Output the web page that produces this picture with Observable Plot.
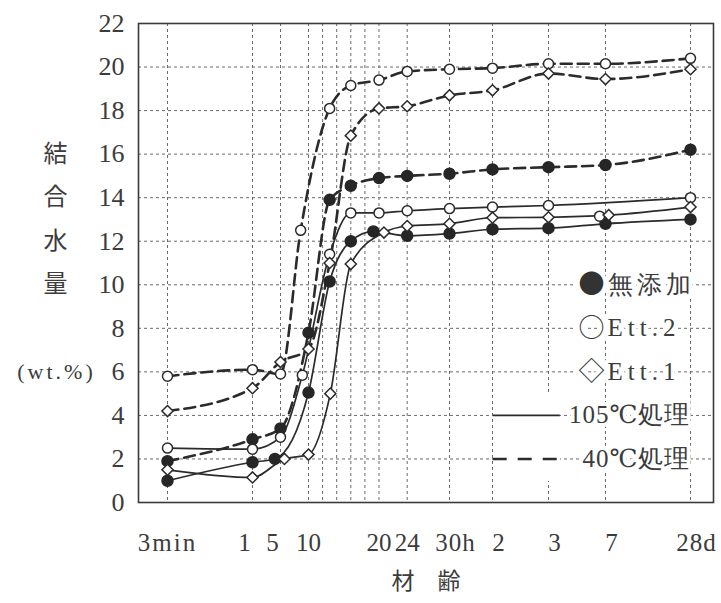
<!DOCTYPE html>
<html><head><meta charset="utf-8">
<script src="https://cdn.jsdelivr.net/npm/d3@7"></script>
<script src="https://cdn.jsdelivr.net/npm/@observablehq/plot@0.6"></script>
<style>html,body{margin:0;padding:0;background:#fff;} svg{display:block;}</style>
</head><body><div id="chart"></div>
<script>
// ---- axis definitions (time in hours) ----
const xTickHours  = [0.05, 1, 5, 10, 20, 24, 30, 48, 72, 168, 672];
const xTickLabels = ["3min", "1", "5", "10", "20", "24", "30h", "2", "3", "7", "28d"];
const xGridHours  = [0.05, 1, 5, 10, 12, 14, 16, 18, 20, 24, 30, 48, 72, 168, 672];
const yTicks      = [0, 2, 4, 6, 8, 10, 12, 14, 16, 18, 20, 22];
const yGrid       = [2, 4, 6, 8, 10, 12, 14, 16, 18, 20];

// ---- series (結合水量 wt.%) ----
const seriesKeys      = ["mutenka105", "ett2_105", "ett1_105", "mutenka40", "ett2_40", "ett1_40"];
const seriesMaterial  = ["無添加", "Ett.2", "Ett.1", "無添加", "Ett.2", "Ett.1"];
const seriesTreatment = ["105℃", "105℃", "105℃", "40℃", "40℃", "40℃"];

const mutenka105Hours  = [0.05, 1, 4.2, 10, 13, 16, 19.2, 24, 30, 48, 72, 168, 672];
const mutenka105Values = [1.0, 1.85, 2.0, 5.05, 10.15, 12.0, 12.45, 12.25, 12.35, 12.55, 12.6, 12.8, 13.0];

const ett2_105Hours  = [0.05, 1, 5, 8.9, 13, 16, 20, 24, 30, 48, 72, 158, 672];
const ett2_105Values = [2.5, 2.45, 3.0, 5.85, 11.4, 13.3, 13.3, 13.4, 13.5, 13.57, 13.64, 13.15, 14.0];

const ett1_105Hours  = [0.05, 1, 5.7, 10, 13.1, 16, 20.7, 24, 30, 48, 72, 187, 672];
const ett1_105Values = [1.5, 1.15, 2.0, 2.2, 5.0, 10.95, 12.4, 12.7, 12.8, 13.08, 13.1, 13.2, 13.57];

const mutenka40Hours  = [0.05, 1, 5, 10, 13, 16, 20, 24, 30, 48, 72, 168, 672];
const mutenka40Values = [1.9, 2.9, 3.4, 7.8, 13.9, 14.55, 14.9, 15.0, 15.1, 15.3, 15.4, 15.5, 16.2];

const ett2_40Hours  = [0.05, 1, 5, 8.6, 13, 16, 20, 24, 30, 48, 72, 168, 672];
const ett2_40Values = [5.8, 6.1, 5.9, 12.5, 18.1, 19.15, 19.4, 19.8, 19.9, 19.95, 20.15, 20.15, 20.4];

const ett1_40Hours  = [0.05, 1, 5, 10, 13, 16, 20, 24, 30, 48, 72, 168, 672];
const ett1_40Values = [4.2, 5.25, 6.45, 7.05, 11.0, 16.85, 18.1, 18.2, 18.7, 18.93, 19.7, 19.45, 19.9];

// points plotted off the drawn (hand-fitted) curve
const curveSkipKeys  = ["ett2_105"];
const curveSkipHours = [158];

// ---- labels ----
const yTitleChars   = ["結", "合", "水", "量"];
const xTitle        = "材　齢";
const unitLabel     = "(wt.%)";
const legendGlyphs  = ["●", "○", "◇"];
const legendNames   = ["無添加", "Ett.2", "Ett.1"];
const legendTreat   = ["105℃処理", "40℃処理"];

// ---- build table ----
const seriesHours  = [mutenka105Hours, ett2_105Hours, ett1_105Hours, mutenka40Hours, ett2_40Hours, ett1_40Hours];
const seriesValues = [mutenka105Values, ett2_105Values, ett1_105Values, mutenka40Values, ett2_40Values, ett1_40Values];
const rows = [];
seriesKeys.forEach((k, i) => {
  seriesHours[i].forEach((h, j) => rows.push({
    key: k, material: seriesMaterial[i], treatment: seriesTreatment[i], t: h, v: seriesValues[i][j]
  }));
});
const onCurve = d => !curveSkipKeys.some((k, i) => k === d.key && curveSkipHours[i] === d.t);

// ---- layout (scale breakpoints of the hand-drawn time axis) ----
const xBreakHours = [0.05, 1, 5, 10, 30, 48, 72, 168, 672];
const xBreakPx    = [167, 252, 280, 308, 449, 492, 548, 605, 690];

const ink = "#2b2b2b";
const txt = "#3c3c3c";
const serif = "Liberation Serif, Tinos, Times New Roman, DejaVu Serif, serif";
const cjk = "Noto Sans CJK JP, sans-serif";
const gridStyle = {stroke: "#6a6a6a", strokeWidth: 1, strokeDasharray: "3,3"};

const tickIdx = (labels) => xTickLabels.map((l, i) => i).filter(i => labels.includes(xTickLabels[i]));
const tickMark = (labels, dx) => Plot.text(tickIdx(labels), {
  x: i => xTickHours[i], text: i => xTickLabels[i], frameAnchor: "bottom", dy: 48, dx,
  fontFamily: serif, fontSize: 25, fill: txt
});

const legendRowsA = [10, 8, 6];
const legendRowsB = [4, 2];
const yTitleRows = [16, 14, 12, 10];

const chart = Plot.plot({
  width: 721, height: 603,
  marginLeft: 138, marginRight: 8, marginTop: 23, marginBottom: 101,
  style: {background: "#fff", overflow: "visible"},
  x: {type: "linear", domain: xBreakHours, range: xBreakPx, axis: null},
  y: {domain: [0, 22], axis: null},
  marks: [
    Plot.ruleY(yGrid, gridStyle),
    Plot.ruleX(xGridHours, gridStyle),
    Plot.frame({stroke: "#3a3a3a", strokeWidth: 1.6}),
    // y tick labels
    Plot.text(yTicks, {y: d => d, text: d => String(d), frameAnchor: "left", textAnchor: "end", dx: -14,
      fontFamily: serif, fontSize: 26, fill: txt}),
    // x tick labels
    tickMark(["3min", "10", "20", "24"], 0),
    tickMark(["1", "5"], -8),
    tickMark(["30h", "2", "3", "7", "28d"], 6),
    // axis titles
    Plot.text(yTitleChars, {y: (d, i) => yTitleRows[i], text: d => d, frameAnchor: "left", textAnchor: "middle", dx: -83,
      fontFamily: cjk, fontSize: 24, fill: txt}),
    Plot.text([unitLabel], {y: 6, text: d => d, frameAnchor: "left", textAnchor: "middle", dx: -82,
      fontFamily: serif, fontSize: 22, fill: txt}),
    Plot.text([xTitle], {text: d => d, frameAnchor: "bottom", dy: 86, fontFamily: cjk, fontSize: 23, fill: txt}),
    // legend backgrounds and samples
    Plot.ruleY(legendRowsB, {x1: 49, x2: 92, stroke: "#fff", strokeWidth: 44}),
    Plot.ruleY([legendRowsB[0]], {x1: 48.3, x2: 92, stroke: ink, strokeWidth: 1.8}),
    Plot.ruleY([legendRowsB[1]], {x1: 48.3, x2: 92, stroke: ink, strokeWidth: 2.6, strokeDasharray: "14,11"}),
    Plot.text(legendGlyphs, {x: 168, y: (d, i) => legendRowsA[i], text: d => d, textAnchor: "end", dx: -1,
      fontFamily: cjk, fontSize: 26, fill: "#333", stroke: "#fff", strokeWidth: 8, paintOrder: "stroke"}),
    Plot.text(legendNames, {x: 168, y: (d, i) => legendRowsA[i], text: d => d, textAnchor: "start", dx: 2,
      fontFamily: serif, fontSize: 25, fill: txt, stroke: "#fff", strokeWidth: 8, paintOrder: "stroke"}),
    Plot.text(legendTreat, {x: 672, y: (d, i) => legendRowsB[i], text: d => d, textAnchor: "end", dx: 0,
      fontFamily: serif, fontSize: 25, fill: txt, stroke: "#fff", strokeWidth: 8, paintOrder: "stroke"}),
    // data curves
    Plot.line(rows.filter(d => d.treatment === "105℃" && onCurve(d)), {x: "t", y: "v", z: "key",
      stroke: ink, strokeWidth: 1.7, curve: "monotone-x"}),
    Plot.line(rows.filter(d => d.treatment === "40℃"), {x: "t", y: "v", z: "key",
      stroke: ink, strokeWidth: 2.6, strokeDasharray: "11,6", curve: "monotone-x"}),
    // markers
    Plot.dot(rows.filter(d => d.material === "無添加"), {x: "t", y: "v", r: 5.5, fill: "#262626", stroke: "#262626"}),
    Plot.dot(rows.filter(d => d.material === "Ett.2"), {x: "t", y: "v", r: 5, fill: "#fff", stroke: ink, strokeWidth: 1.5}),
    Plot.dot(rows.filter(d => d.material === "Ett.1"), {x: "t", y: "v", r: 5, symbol: "diamond2", fill: "#fff", stroke: ink, strokeWidth: 1.5})
  ]
});

// typewriter-like letter spacing of the original lettering
const letterSpacing = {"(wt.%)": 3, "Ett.2": 5, "Ett.1": 5, "無添加": 4, "105℃処理": 1, "40℃処理": 1, "3min": 2, "30h": 1, "28d": 1};
d3.select(chart).selectAll("text").each(function () {
  const s = letterSpacing[this.textContent];
  if (s) this.setAttribute("letter-spacing", s);
});
document.getElementById("chart").appendChild(chart);
</script>
</body></html>
